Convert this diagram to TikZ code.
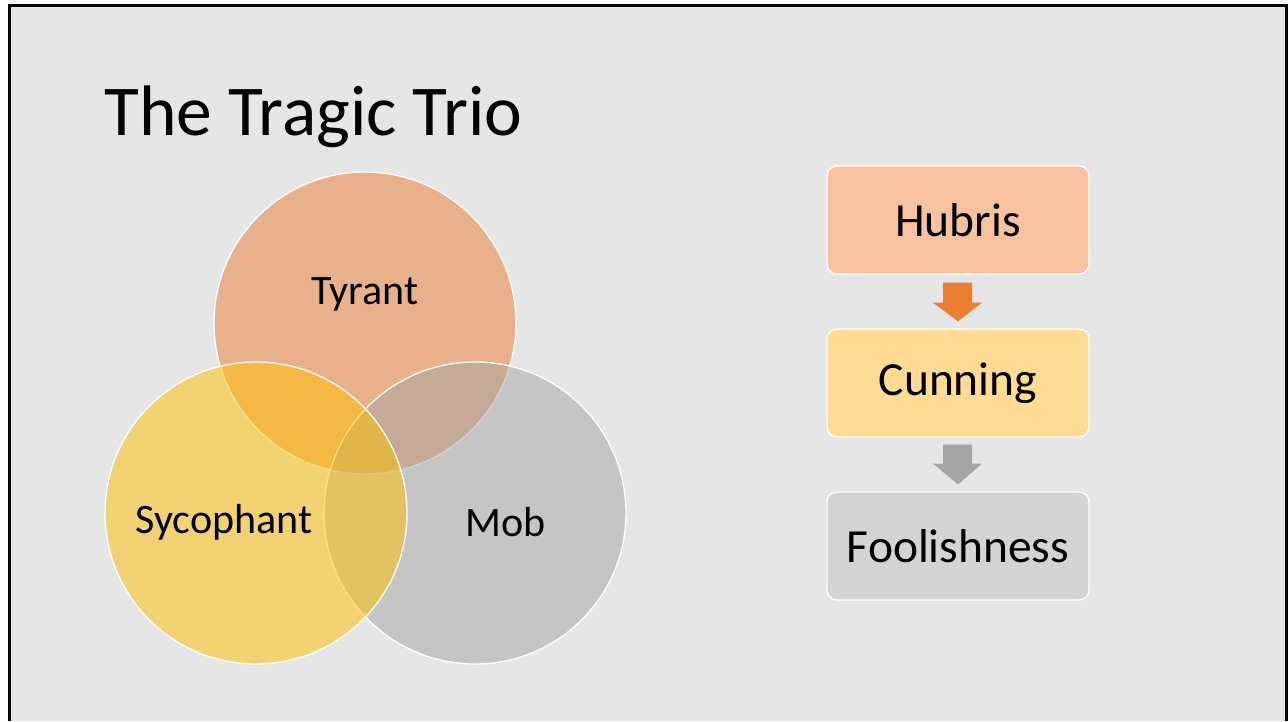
\documentclass[tikz,border=0pt]{standalone}
\usepackage{fontspec}
\setmainfont{Carlito}
\usetikzlibrary{calc}
\definecolor{slidebg}{HTML}{E6E6E6}
\definecolor{accorange}{HTML}{ED7D31}
\definecolor{accgold}{HTML}{FFC000}
\definecolor{accgray}{HTML}{A5A5A5}
\definecolor{boxorange}{HTML}{F8C1A0}
\definecolor{boxgold}{HTML}{FFDB94}
\definecolor{boxgray}{HTML}{D4D4D4}
\tikzset{
  venn/.style={fill opacity=0.5, draw=white, draw opacity=1, line width=1.3pt},
  venntext/.style={font=\fontsize{42}{49}\selectfont, text=black, inner sep=0pt},
  stepbox/.style={rectangle, rounded corners=10pt, draw=white, line width=1.3pt,
    minimum width=262pt, minimum height=108pt, inner sep=0pt,
    font=\fontsize{47.5}{55}\selectfont, text=black},
}
\begin{document}
\begin{tikzpicture}[x=1pt, y=-1pt]
  \useasboundingbox (0,0) rectangle (1288,721);
  \fill[white] (0,0) rectangle (1288,721);
  % slide area and its frame
  \fill[slidebg] (9.5,5) rectangle (1286.5,721);
  \draw[black, line width=3pt] (9.5,721) -- (9.5,5) -- (1286.5,5) -- (1286.5,721);

  % title
  \node[anchor=base west, inner sep=0pt, font=\fontsize{71.5}{82}\selectfont] (title) at (104,135) {The Tragic Trio};

  % Venn diagram
  \path[venn, fill=accorange] (365,323) circle (151);
  \path[venn, fill=accgray] (475,513) circle (151);
  \path[venn, fill=accgold] (256,513) circle (151);
  \node[venntext] (tyrant) at (365,294) {Tyrant};
  \node[venntext] (syco) at (224,522) {Sycophant};
  \node[venntext] (mob) at (506,522) {Mob};

  % process steps
  \node[stepbox, fill=boxorange] (hub) at (958,220) {Hubris};
  \node[stepbox, fill=boxgold] (cun) at (958,383) {Cunning};
  \node[stepbox, fill=boxgray] (fool) at (958,546) {Foolishness};

  % block arrows between the steps
  \fill[accorange] ($(hub.south)+(-15,8)$) -- ($(hub.south)+(14,8)$) -- ($(hub.south)+(14,28)$)
    -- ($(hub.south)+(24,28)$) -- ($(cun.north)+(0,-7)$) -- ($(hub.south)+(-25,28)$)
    -- ($(hub.south)+(-15,28)$) -- cycle;
  \fill[accgray] ($(cun.south)+(-15,7)$) -- ($(cun.south)+(14,7)$) -- ($(cun.south)+(14,26)$)
    -- ($(cun.south)+(24,26)$) -- ($(fool.north)+(0,-7)$) -- ($(cun.south)+(-25,26)$)
    -- ($(cun.south)+(-15,26)$) -- cycle;
\end{tikzpicture}
\end{document}
